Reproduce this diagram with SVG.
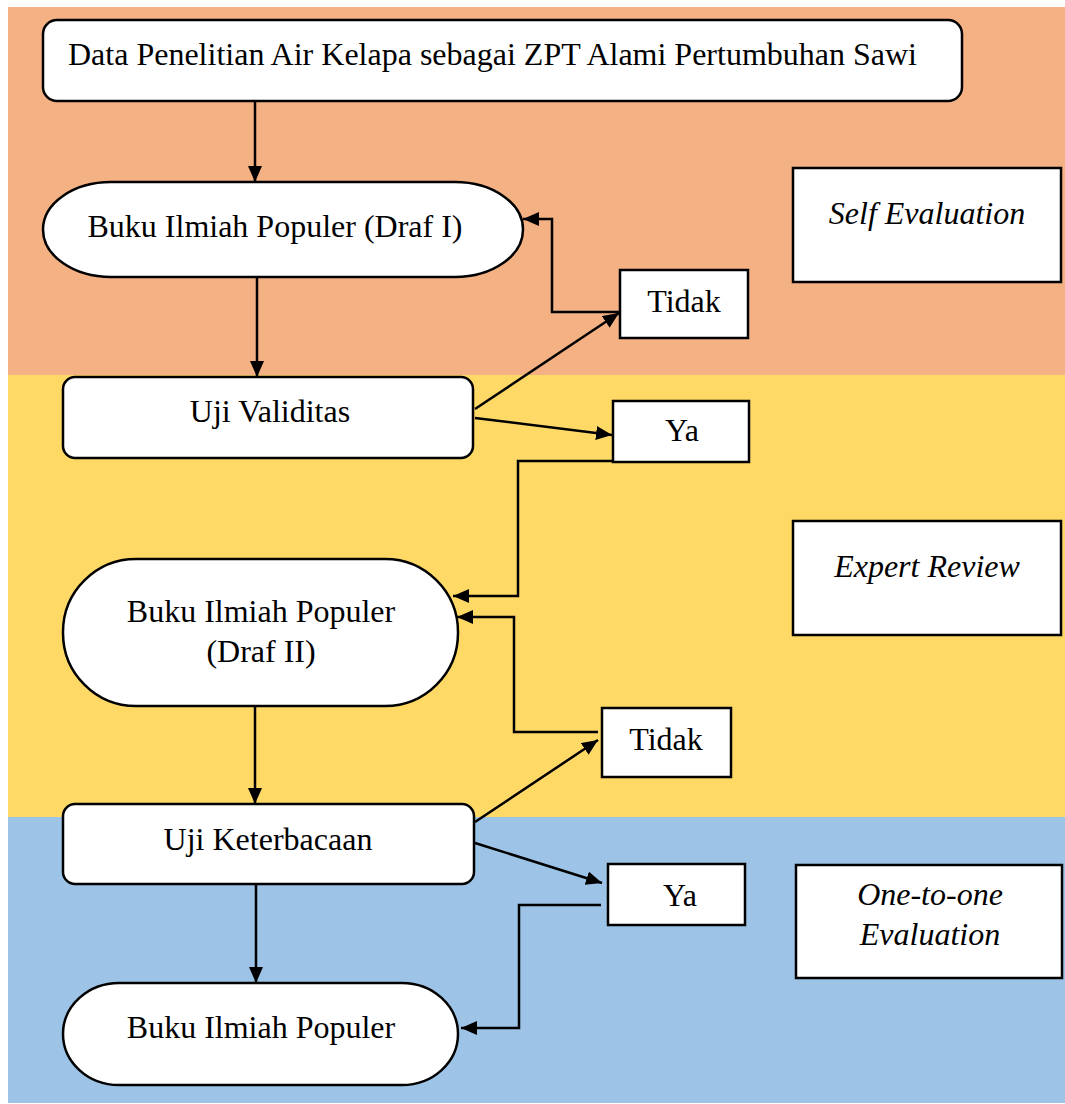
<svg xmlns="http://www.w3.org/2000/svg" width="1065" height="1104" viewBox="0 0 1065 1104">
<style>
.box{fill:#fff;stroke:#000;stroke-width:2.5}
.t{font-family:"Liberation Serif","Times New Roman",serif;font-size:32px;fill:#000}
.c{text-anchor:middle}
.i{font-style:italic}
.con{fill:none;stroke:#000;stroke-width:2.5}
</style>
<defs>
<marker id="ah" viewBox="0 0 16 14" refX="16" refY="7" markerWidth="16" markerHeight="14" markerUnits="userSpaceOnUse" orient="auto">
<path d="M0,0 L16,7 L0,14 z" fill="#000"/>
</marker>
</defs>
<rect x="0" y="0" width="1065" height="1104" fill="#fff"/>
<g id="bands">
<rect x="8" y="7" width="1057" height="368" fill="#F4B183"/>
<rect x="8" y="375" width="1057" height="442" fill="#FFD966"/>
<rect x="8" y="817" width="1057" height="286" fill="#9DC3E6"/>
</g>
<g id="connectors">
<path class="con" d="M255,101 V182" marker-end="url(#ah)"/>
<path class="con" d="M257,277 V377" marker-end="url(#ah)"/>
<path class="con" d="M620,312 H552 V219 H523" marker-end="url(#ah)"/>
<path class="con" d="M475,409 L619,313" marker-end="url(#ah)"/>
<path class="con" d="M475,418 L612,435" marker-end="url(#ah)"/>
<path class="con" d="M613,461 H518 V596 H453" marker-end="url(#ah)"/>
<path class="con" d="M598,732 H514 V617 H457" marker-end="url(#ah)"/>
<path class="con" d="M475,822 L598,740" marker-end="url(#ah)"/>
<path class="con" d="M255,706 V804" marker-end="url(#ah)"/>
<path class="con" d="M256,884 V983" marker-end="url(#ah)"/>
<path class="con" d="M475,843 L602,883" marker-end="url(#ah)"/>
<path class="con" d="M601,905 H519 V1028 H461" marker-end="url(#ah)"/>
</g>
<g id="n-data">
<rect class="box" x="43" y="20" width="919" height="81" rx="14"/>
<text class="t" x="68" y="65">Data Penelitian Air Kelapa sebagai ZPT Alami Pertumbuhan Sawi</text>
</g>
<g id="n-draf1">
<rect class="box" x="43" y="182" width="480" height="95" rx="68" ry="47.5"/>
<text class="t c" x="275" y="237">Buku Ilmiah Populer (Draf I)</text>
</g>
<g id="n-validitas">
<rect class="box" x="63" y="377" width="410" height="81" rx="12"/>
<text class="t c" x="270" y="422">Uji Validitas</text>
</g>
<g id="n-tidak1">
<rect class="box" x="620" y="270" width="128" height="68"/>
<text class="t c" x="684" y="312">Tidak</text>
</g>
<g id="n-ya1">
<rect class="box" x="613" y="401" width="136" height="61"/>
<text class="t c" x="682" y="441">Ya</text>
</g>
<g id="n-draf2">
<rect class="box" x="63" y="559" width="395" height="147" rx="73" ry="73"/>
<text class="t c" x="261" y="622">Buku Ilmiah Populer</text>
<text class="t c" x="261" y="662">(Draf II)</text>
</g>
<g id="n-tidak2">
<rect class="box" x="602" y="708" width="129" height="69"/>
<text class="t c" x="666" y="750">Tidak</text>
</g>
<g id="n-keterbacaan">
<rect class="box" x="63" y="804" width="411" height="80" rx="12"/>
<text class="t c" x="268" y="850">Uji Keterbacaan</text>
</g>
<g id="n-ya2">
<rect class="box" x="608" y="864" width="137" height="61"/>
<text class="t c" x="680" y="906">Ya</text>
</g>
<g id="n-final">
<rect class="box" x="63" y="983" width="395" height="102" rx="56" ry="51"/>
<text class="t c" x="261" y="1038">Buku Ilmiah Populer</text>
</g>
<g id="n-self">
<rect class="box" x="793" y="168" width="268" height="114"/>
<text class="t c i" x="927" y="224">Self Evaluation</text>
</g>
<g id="n-expert">
<rect class="box" x="793" y="521" width="268" height="114"/>
<text class="t c i" x="927" y="577">Expert Review</text>
</g>
<g id="n-onetoone">
<rect class="box" x="796" y="865" width="266" height="113"/>
<text class="t c i" x="930" y="905">One-to-one</text>
<text class="t c i" x="930" y="945">Evaluation</text>
</g>
</svg>
